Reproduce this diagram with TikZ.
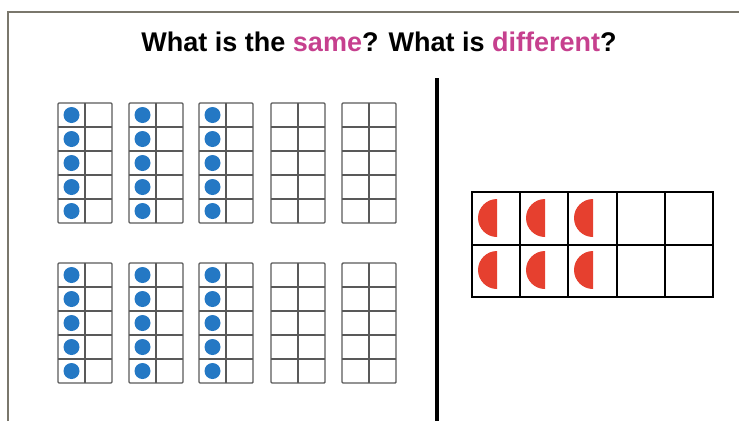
\documentclass[tikz,border=0pt]{standalone}
\usepackage{fontspec}
\setmainfont{Liberation Sans}
\usepackage{xcolor}
\usetikzlibrary{positioning}
\definecolor{tfblue}{HTML}{2478C4}
\definecolor{tfred}{HTML}{E6402F}
\definecolor{tfpink}{HTML}{C6408E}
\definecolor{tfframe}{HTML}{7A776C}

\begin{document}
\begin{tikzpicture}[x=1pt, y=-1pt,
        slide/.style={draw=tfframe, line width=2pt},
        tengrid/.style={draw=black!65, line width=1.4pt},
        bigrid/.style={draw=black, line width=2pt},
        counter/.style={fill=tfblue},
        halfdisc/.style={fill=tfred}]
  \useasboundingbox (0,0) rectangle (739,421);
  % slide border and title
  \draw[slide] (8,421) -- (8,12) -- (739,12);
  \node[font=\bfseries\fontsize{27}{31}\selectfont] (title) at (379,42)
    {What is the \textcolor{tfpink}{same}? What is \textcolor{tfpink}{different}?};
  % divider
  \coordinate (divtop) at (437,78);
  \coordinate (divbot) at (437,421);
  \draw[line width=3.5pt] (divtop) -- (divbot);
  % vertical ten-frames, two rows of five
  \foreach \ty in {103,263} {
    \foreach \tx [count=\k] in {58,129,199,271,342} {
      \draw[tengrid, rounded corners=1pt] (\tx,\ty) rectangle ++(54,120);
      \draw[tengrid] (\tx+27,\ty) -- ++(0,120);
      \foreach \r in {1,...,4}
        \draw[tengrid] (\tx,\ty+24*\r) -- ++(54,0);
      \ifnum\k<4
        \foreach \r in {0,...,4}
          \fill[counter] (\tx+13.5,\ty+12+24*\r) circle (8);
      \fi
    }
  }
  % horizontal ten-frame with half counters
  \draw[bigrid] (472,192) rectangle (713,297);
  \draw[bigrid] (472,244.5) -- (713,244.5);
  \foreach \c in {1,...,4}
    \draw[bigrid] (472+48.2*\c,192) -- ++(0,105);
  \foreach \cy in {218,270}
    \foreach \cx in {497,545,593}
      \fill[halfdisc] (\cx,\cy-19) arc (270:90:19) -- cycle;
\end{tikzpicture}
\end{document}
